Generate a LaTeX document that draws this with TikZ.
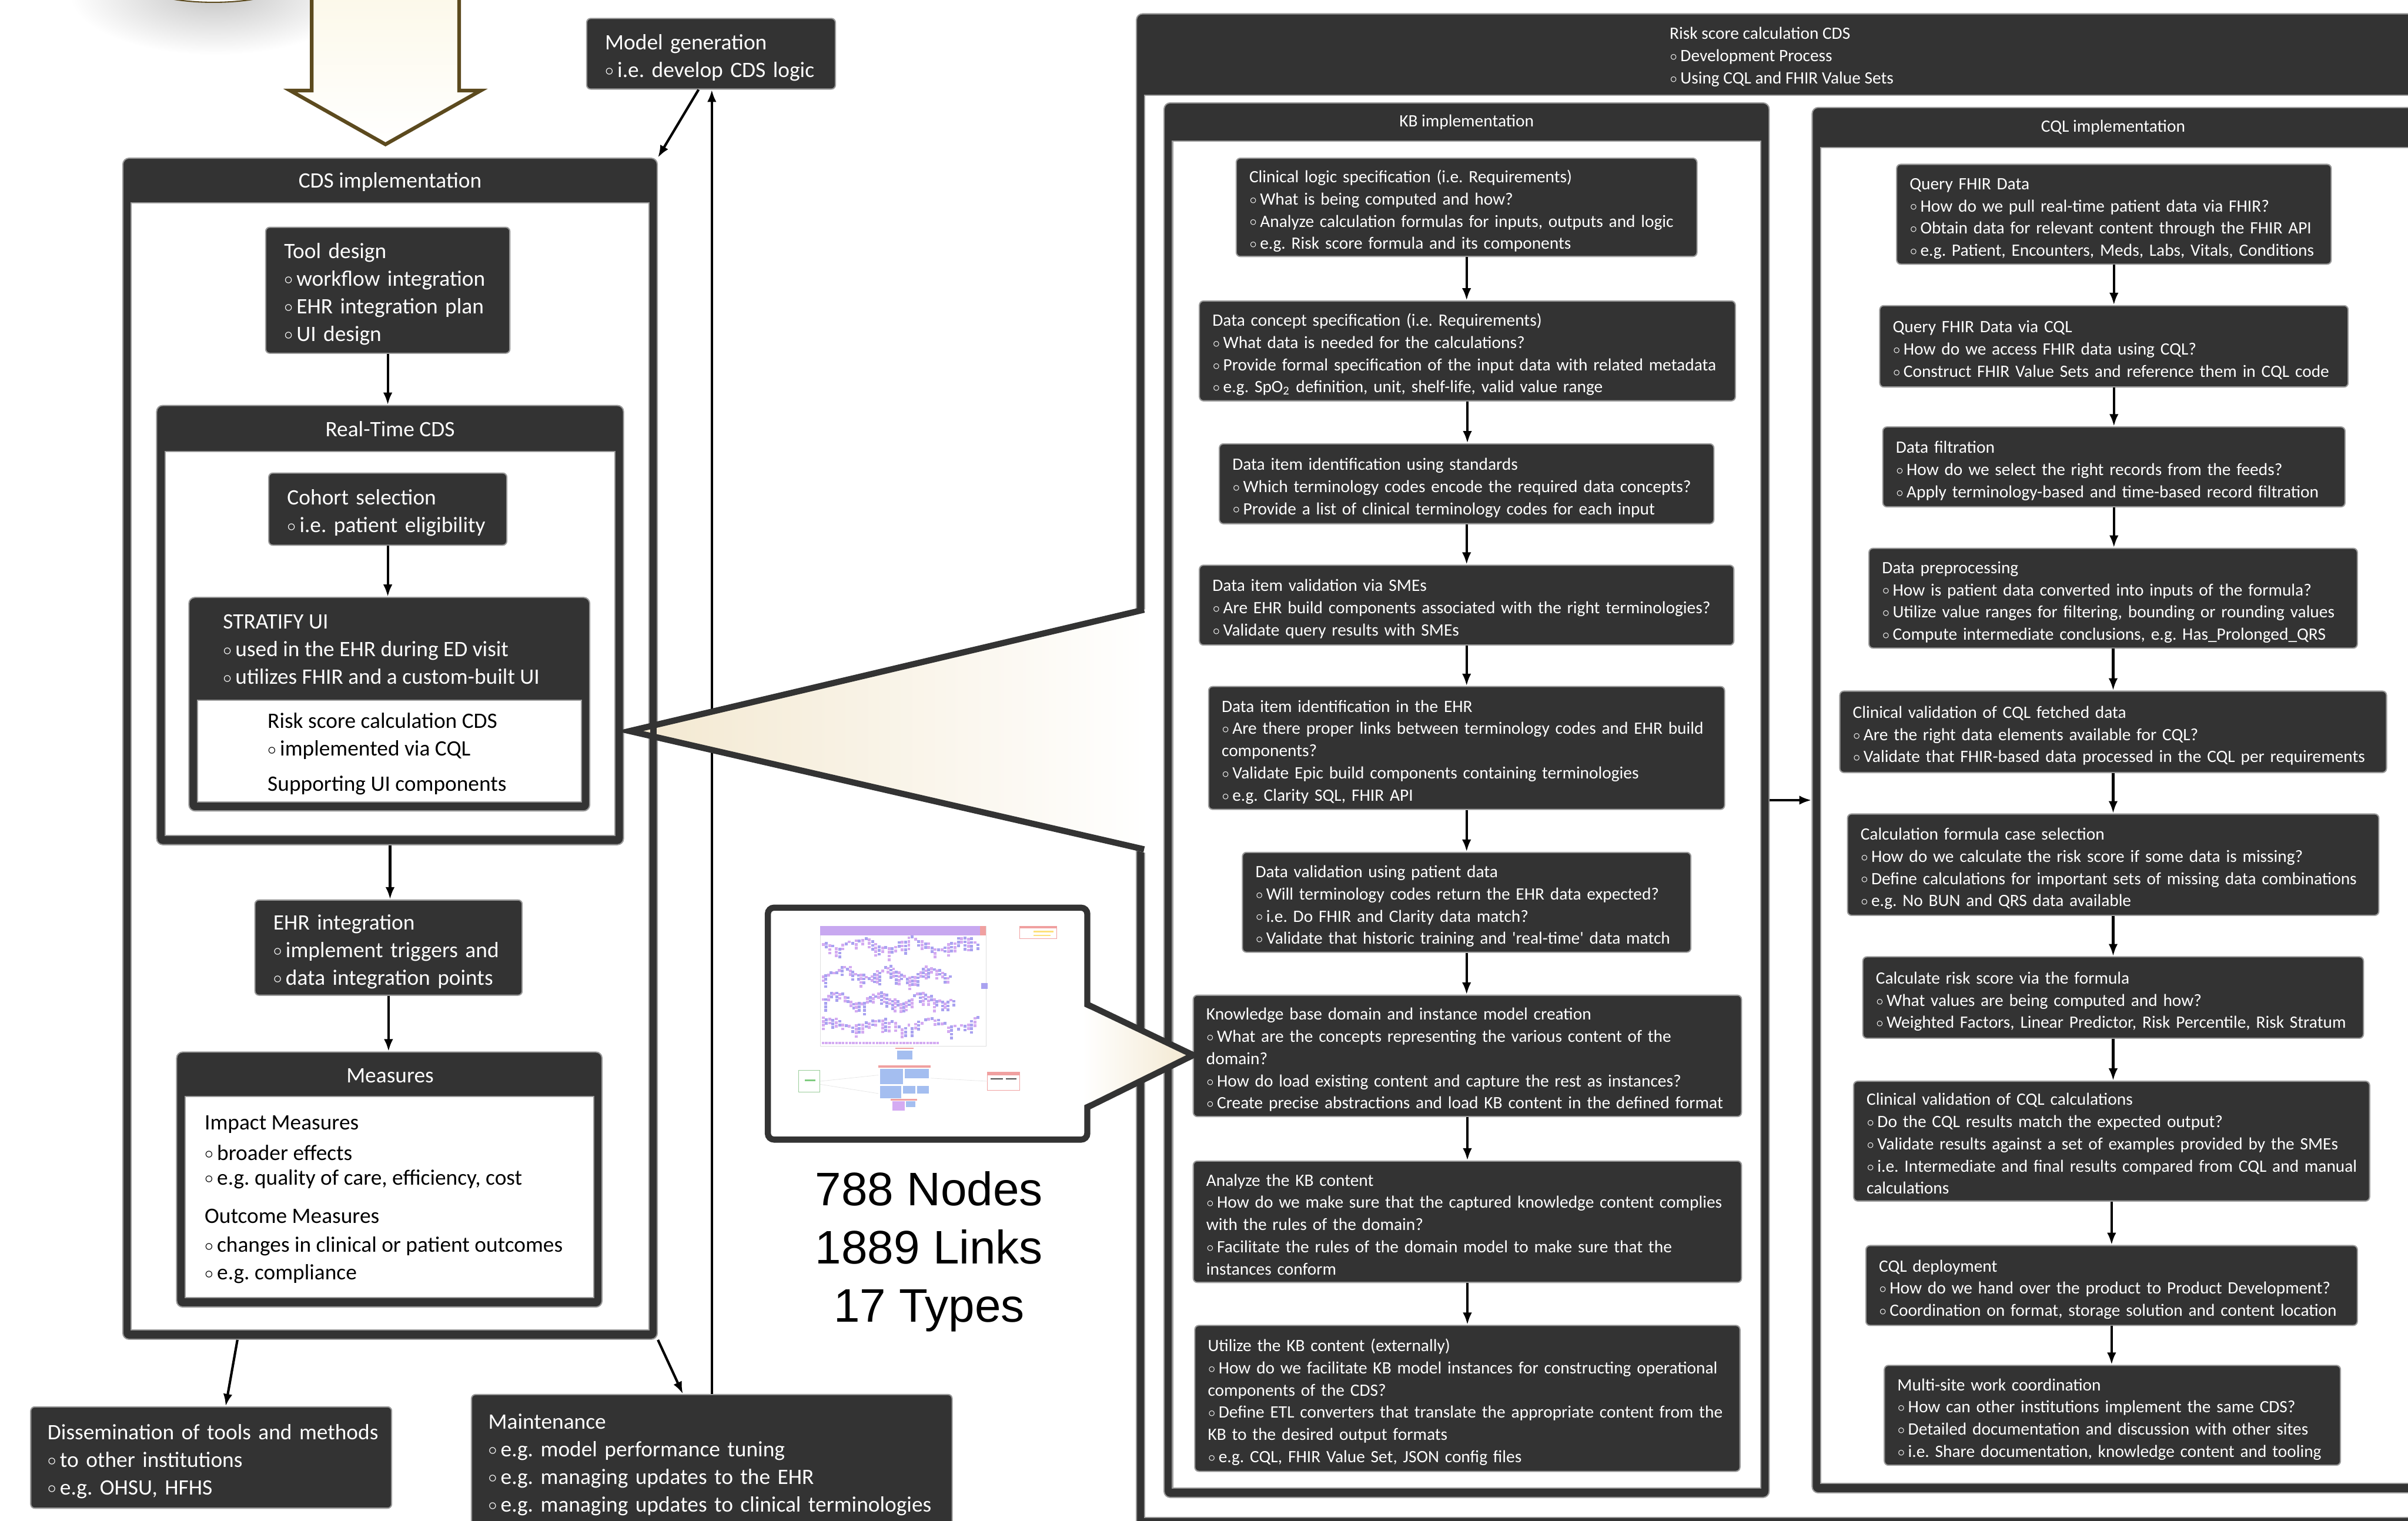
\documentclass[tikz,border=0pt]{standalone}
\usepackage{fontspec}
\setmainfont{Carlito}
\newfontfamily\statsfont{Liberation Sans}
\usetikzlibrary{calc,arrows.meta}
\frenchspacing

\definecolor{boxfill}{HTML}{333333}
\definecolor{boxedge}{HTML}{9A9A9A}
\definecolor{arrowbrown}{HTML}{5C4A1E}
\definecolor{cream}{HTML}{F3E8D0}
\definecolor{lightcream}{HTML}{FCF8E8}
\definecolor{lav}{HTML}{A9A2F0}
\definecolor{lilac}{HTML}{D4ABF2}
\definecolor{headlav}{HTML}{C8A8F0}
\definecolor{paleblue}{HTML}{A4BEF0}
\definecolor{salmon}{HTML}{F0A0A0}

% small hollow bullet
\newcommand\bl{\raisebox{0.15ex}{$\scriptstyle\circ$}\,}

% dark box: style, padding, name, x1, y1, x2, y2, lines
\newcommand\flowbox[8]{%
  \pgfmathsetmacro\bw{(#6-#4)*0.0264}%
  \pgfmathsetmacro\bh{(#7-#5)*0.0264}%
  \pgfmathsetmacro\tw{(#6-#4-2*#2)*0.0264}%
  \node[#1, minimum width=\bw cm, minimum height=\bh cm, text width=\tw cm]
    (#3) at ({(#4+#6)/2},{(#5+#7)/2})
    {\raisebox{-2pt}[\height][\depth]{\begin{tabular}{@{}l@{}}#8\end{tabular}}};%
}

% container with dark header: name, x1, y1, x2, y2, header bottom
\newcommand\panel[6]{%
  \pgfmathsetmacro\bw{(#4-#2)*0.0264}%
  \pgfmathsetmacro\bh{(#5-#3)*0.0264}%
  \node[panelbox, minimum width=\bw cm, minimum height=\bh cm] (#1) at ({(#2+#4)/2},{(#3+#5)/2}) {};%
  \draw[panelin] (#2+5.5,#6) rectangle (#4-5.5,#5-6);%
}

\tikzset{
  darkbox/.style={draw=boxedge, fill=boxfill, line width=0.6pt, rounded corners=2pt, text=white, inner sep=0pt},
  leftbox/.style={darkbox, font=\fontsize{10.75}{13.5}\selectfont},
  rightbox/.style={darkbox, font=\fontsize{8.45}{10.85}\selectfont},
  panelbox/.style={draw=boxedge, fill=boxfill, line width=0.6pt, rounded corners=3pt, inner sep=0pt},
  panelin/.style={draw=boxedge, fill=white, line width=0.6pt},
  ltext/.style={text=white, inner sep=0pt, font=\fontsize{10.75}{13.5}\selectfont},
  ltextdark/.style={text=black, inner sep=0pt, font=\fontsize{10.75}{13.5}\selectfont},
  rtext/.style={text=white, inner sep=0pt, font=\fontsize{8.45}{10.85}\selectfont},
  flow/.style={->, line width=1.2pt},
  callout/.style={draw=boxfill, line width=3pt, line join=miter},
}

\begin{document}
\begin{tikzpicture}[x=0.0264cm, y=-0.0264cm, >={Latex[length=6pt,width=4.5pt]}]
\useasboundingbox (0,0) rectangle (1568,990);
\clip (0,0) rectangle (1568,990);

% Risk score calculation CDS (right part)
\panel{rs}{740}{9}{1600}{994}{62}
\node[rtext, anchor=north west, align=left] (rsT) at (1087,17.5)
  {Risk score calculation CDS\\ \bl Development Process\\ \bl Using CQL and FHIR Value Sets};

% KB implementation
\panel{kb}{758}{67}{1152}{975}{92}
\node[rtext] (kbT) at (955,79.5) {KB implementation};
\flowbox{rightbox}{8.5}{k1}{805}{103}{1105}{167}{Clinical logic specification (i.e. Requirements)\\ \bl What is being computed and how?\\ \bl Analyze calculation formulas for inputs, outputs and logic\\ \bl e.g. Risk score formula and its components}
\flowbox{rightbox}{8.5}{k2}{781}{196}{1130}{261}{Data concept specification (i.e. Requirements)\\ \bl What data is needed for the calculations?\\ \bl Provide formal specification of the input data with related metadata\\ \bl e.g. SpO\textsubscript{2} definition, unit, shelf-life, valid value range}
\flowbox{rightbox}{8.5}{k3}{794}{289}{1116}{341}{Data item identification using standards\\ \bl Which terminology codes encode the required data concepts?\\ \bl Provide a list of clinical terminology codes for each input}
\flowbox{rightbox}{8.5}{k4}{781}{368}{1129}{420}{Data item validation via SMEs\\ \bl Are EHR build components associated with the right terminologies?\\ \bl Validate query results with SMEs}
\flowbox{rightbox}{8.5}{k5}{787}{447}{1123}{527}{Data item identification in the EHR\\ \bl Are there proper links between terminology codes and EHR build\\ components?\\ \bl Validate Epic build components containing terminologies\\ \bl e.g. Clarity SQL, FHIR API}
\flowbox{rightbox}{8.5}{k6}{809}{555}{1101}{620}{Data validation using patient data\\ \bl Will terminology codes return the EHR data expected?\\ \bl i.e. Do FHIR and Clarity data match?\\ \bl Validate that historic training and \textquotesingle real-time\textquotesingle{} data match}
\flowbox{rightbox}{8.5}{k7}{777}{648}{1134}{727}{Knowledge base domain and instance model creation\\ \bl What are the concepts representing the various content of the\\ domain?\\ \bl How do load existing content and capture the rest as instances?\\ \bl Create precise abstractions and load KB content in the defined format}
\flowbox{rightbox}{8.5}{k8}{777}{756}{1134}{835}{Analyze the KB content\\ \bl How do we make sure that the captured knowledge content complies\\ with the rules of the domain?\\ \bl Facilitate the rules of the domain model to make sure that the\\ instances conform}
\flowbox{rightbox}{8.5}{k9}{778}{863}{1133}{958}{Utilize the KB content (externally)\\ \bl How do we facilitate KB model instances for constructing operational\\ components of the CDS?\\ \bl Define ETL converters that translate the appropriate content from the\\ KB to the desired output formats\\ \bl e.g. CQL, FHIR Value Set, JSON config files}
\foreach \a/\b in {k1/k2,k2/k3,k3/k4,k4/k5,k5/k6,k6/k7,k7/k8,k8/k9}
  \draw[flow] (\a.south) -- (\a.south |- \b.north);

% CQL implementation
\panel{cql}{1180}{70}{1600}{972}{96}
\node[rtext] (cqlT) at (1376,83) {CQL implementation};
\flowbox{rightbox}{8.5}{q1}{1235}{107}{1518}{172}{Query FHIR Data\\ \bl How do we pull real-time patient data via FHIR?\\ \bl Obtain data for relevant content through the FHIR API\\ \bl e.g. Patient, Encounters, Meds, Labs, Vitals, Conditions}
\flowbox{rightbox}{8.5}{q2}{1224}{199}{1529}{252}{Query FHIR Data via CQL\\ \bl How do we access FHIR data using CQL?\\ \bl Construct FHIR Value Sets and reference them in CQL code}
\flowbox{rightbox}{8.5}{q3}{1226}{278}{1527}{330}{Data filtration\\ \bl How do we select the right records from the feeds?\\ \bl Apply terminology-based and time-based record filtration}
\flowbox{rightbox}{8.5}{q4}{1217}{357}{1535}{422}{Data preprocessing\\ \bl How is patient data converted into inputs of the formula?\\ \bl Utilize value ranges for filtering, bounding or rounding values\\ \bl Compute intermediate conclusions, e.g. Has\_Prolonged\_QRS}
\flowbox{rightbox}{8.5}{q5}{1198}{450}{1554}{503}{Clinical validation of CQL fetched data\\ \bl Are the right data elements available for CQL?\\ \bl Validate that FHIR-based data processed in the CQL per requirements}
\flowbox{rightbox}{8.5}{q6}{1203}{530}{1549}{596}{Calculation formula case selection\\ \bl How do we calculate the risk score if some data is missing?\\ \bl Define calculations for important sets of missing data combinations\\ \bl e.g. No BUN and QRS data available}
\flowbox{rightbox}{8.5}{q7}{1213}{623}{1539}{676}{Calculate risk score via the formula\\ \bl What values are being computed and how?\\ \bl Weighted Factors, Linear Predictor, Risk Percentile, Risk Stratum}
\flowbox{rightbox}{8.5}{q8}{1207}{704}{1543}{782}{Clinical validation of CQL calculations\\ \bl Do the CQL results match the expected output?\\ \bl Validate results against a set of examples provided by the SMEs\\ \bl i.e. Intermediate and final results compared from CQL and manual\\ calculations}
\flowbox{rightbox}{8.5}{q9}{1215}{811}{1535}{863}{CQL deployment\\ \bl How do we hand over the product to Product Development?\\ \bl Coordination on format, storage solution and content location}
\flowbox{rightbox}{8.5}{q10}{1227}{889}{1524}{954}{Multi-site work coordination\\ \bl How can other institutions implement the same CDS?\\ \bl Detailed documentation and discussion with other sites\\ \bl i.e. Share documentation, knowledge content and tooling}
\foreach \a/\b in {q1/q2,q2/q3,q3/q4,q4/q5,q5/q6,q6/q7,q7/q8,q8/q9,q9/q10}
  \draw[flow] (\a.south) -- (\a.south |- \b.north);

\draw[flow] (kb.east) -- (cql.west);

% shadow of the shape above the picture
\shade[inner color=gray!45, outer color=white] (140,-4) ellipse [x radius=2.5cm, y radius=1.05cm];
\draw[arrowbrown, line width=0.6pt, fill=white] (139,-18) ellipse [x radius=1.58cm, y radius=0.515cm];

% big hollow arrow
\draw[arrowbrown, line width=1.8pt, line join=miter, top color=lightcream, bottom color=white]
  (203,-10) -- (203,59) -- (189,59) -- (251,94) -- (313,59) -- (299,59) -- (299,-10) -- cycle;

% model generation and the outer loop
\flowbox{leftbox}{12}{mg}{382}{12}{544}{58}{Model generation\\ \bl i.e. develop CDS logic}
\flowbox{leftbox}{11}{dis}{20}{916}{255}{982}{Dissemination of tools and methods\\ \bl to other institutions\\ \bl e.g. OHSU, HFHS}
\flowbox{leftbox}{11}{mt}{307}{908}{620}{994}{Maintenance\\ \bl e.g. model performance tuning\\ \bl e.g. managing updates to the EHR\\ \bl e.g. managing updates to clinical terminologies}
\draw[flow] (mt.north) -- (mt.north |- mg.south);

% CDS implementation
\panel{cds}{80}{103}{428}{872}{132}
\node[ltext] (cdsT) at (254,118.5) {CDS implementation};
\draw[flow] ($(mg.south west)!0.45!(mg.south east)$) -- (cds.north east);
\draw[flow] ($(cds.south west)!0.215!(cds.south east)$) -- ($(dis.north west)!0.54!(dis.north east)$);
\draw[flow] (cds.south east) -- ($(mt.north west)!0.44!(mt.north east)$);

\flowbox{leftbox}{12}{td}{173}{148}{332}{230}{Tool design\\ \bl workflow integration\\ \bl EHR integration plan\\ \bl UI design}

\panel{rt}{102}{264}{406}{550}{294}
\node[ltext] (rtT) at (254,279.5) {Real-Time CDS};
\flowbox{leftbox}{12}{cs}{175}{308}{330}{355}{Cohort selection\\ \bl i.e. patient eligibility}

\panel{su}{123}{389}{384}{528}{456}
\node[ltext, anchor=north west, align=left] (suT) at (145,400)
  {STRATIFY UI\\ \bl used in the EHR during ED visit\\ \bl utilizes FHIR and a custom-built UI};
\node[ltextdark, anchor=north west, align=left] (suC) at (174,464)
  {Risk score calculation CDS\\ \bl implemented via CQL\\[3.7pt] Supporting UI components};

\flowbox{leftbox}{12}{ehr}{166}{586}{340}{648}{EHR integration\\ \bl implement triggers and\\ \bl data integration points}

\panel{ms}{115}{685}{392}{851}{714}
\node[ltext] (msT) at (254,700.5) {Measures};
\node[ltextdark, anchor=north west, align=left] (msC) at (133,726)
  {Impact Measures\\[1.5pt] \bl broader effects\\[-1.5pt] \bl e.g. quality of care, efficiency, cost\\[5.3pt]
   Outcome Measures\\[0.7pt] \bl changes in clinical or patient outcomes\\ \bl e.g. compliance};

\draw[flow] (td.south) -- (td.south |- rt.north);
\draw[flow] (cs.south) -- (cs.south |- su.north);
\draw[flow] (rt.south) -- (rt.south |- ehr.north);
\draw[flow] (ehr.south) -- (ehr.south |- ms.north);

% callout from the CDS to its development process
\shade[left color=cream, right color=white] (410,476) -- (749,396) -- (749,556) -- cycle;
\draw[callout] (745,397) -- (410,476) -- (745,553);
\fill[boxfill] (423.4,455) rectangle (427.6,500);

% thumbnail of the knowledge base graph
\draw[boxfill, line width=3pt, fill=white, rounded corners=3pt] (500,591) rectangle (708,742);
\shade[left color=white, right color=cream] (705,655) -- (777,687) -- (705,720) -- cycle;
\draw[callout] (708,654) -- (777,687) -- (708,721);

\draw[gray!25, line width=0.2pt] (534,603) rectangle (642,681);
\fill[headlav] (534,603) rectangle (638,609);
\fill[salmon] (638,603) rectangle (642,609);
\pgfmathsetseed{5}
\foreach \r/\yc/\xe in {0/616/638, 1/635/620, 2/652/622, 3/668/638} {
  \foreach \i in {0,...,47} {
    \pgfmathsetmacro\xx{535+\i*(\xe-537)/47}
    \pgfmathsetmacro\yy{\yc+3*sin(\i*23+\r*80)+1.5*rand}
    \pgfmathrandominteger{\nn}{1}{4}
    \ifodd\i \def\col{lav}\else\def\col{lilac}\fi
    \foreach \k in {1,...,\nn}
      \fill[\col] (\xx,\yy+2.4*\k-5) rectangle ++(1.9,1.8);
  }
}
\foreach \i in {0,...,34}
  \fill[lilac] (535+\i*2.2,678.5) rectangle ++(1.7,1.3);
\fill[lav] (639,640) rectangle (643,644);
% small panels below
\draw[salmon, line width=0.3pt] (664,603) rectangle (688,611);
\fill[salmon] (664,603) rectangle (688,604.5);
\fill[yellow!60!orange!50] (673,606) rectangle (686,607);
\fill[yellow!60!orange!50] (673,608.5) rectangle (684,609.5);
\fill[salmon] (583,682) rectangle (595,683);
\fill[paleblue] (584,684) rectangle (594,690);
\fill[salmon] (572,693.5) rectangle (606,695);
\fill[paleblue] (573,696) rectangle (588,706);
\fill[paleblue] (589,696) rectangle (605,702);
\fill[paleblue] (573,707) rectangle (587,715);
\fill[paleblue] (588,707) rectangle (596,712);
\fill[paleblue] (597,707) rectangle (605,712);
\fill[salmon] (580,715.5) rectangle (597,716.5);
\fill[lilac] (581,717) rectangle (589,723);
\fill[paleblue] (590,717) rectangle (596,721);
\draw[green!50!black!40, line width=0.3pt] (520,697) rectangle (534,711);
\fill[green!60!black!50] (524,703) rectangle (531,704);
\draw[salmon, line width=0.3pt] (643,698) rectangle (664,710);
\fill[salmon] (643,698) rectangle (664,700);
\fill[black!70] (645,702) rectangle (653,703);
\fill[black!70] (655,702) rectangle (662,703);
\draw[gray!20, line width=0.2pt] (534,704) -- (572,700) (534,706) -- (572,712) (606,702) -- (643,704);

% statistics of the graph
\node[font=\statsfont\fontsize{23}{28.5}\selectfont, align=center] (stats) at (605,815)
  {788 Nodes\\ 1889 Links\\ 17 Types};
\end{tikzpicture}
\end{document}
